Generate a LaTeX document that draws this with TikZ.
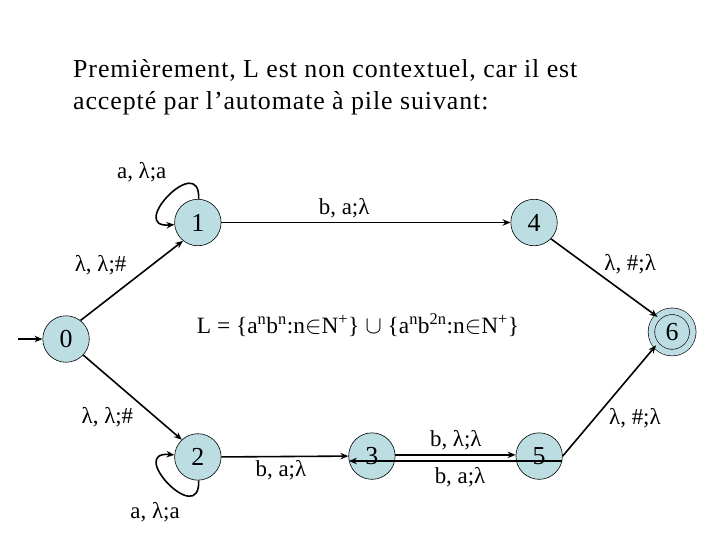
\documentclass[tikz,border=0pt]{standalone}
\usepackage{fontspec}
\setmainfont{Liberation Serif}
\usetikzlibrary{arrows.meta}
\definecolor{stateblue}{RGB}{188,222,226}

\begin{document}
\begin{tikzpicture}[
        yscale=1.0, xscale=1.0,
        state/.style={circle, draw, line width=0.6pt, fill=stateblue, minimum size=1.64cm, inner sep=0pt, font=\fontsize{26}{30}\selectfont},
        final/.style={state, minimum size=1.46cm, double=stateblue, double distance=0.21cm},
        trans/.style={line width=1.6pt, -{Stealth[length=8pt, width=6.5pt]}},
        lbl/.style={font=\fontsize{23}{27}\selectfont, anchor=base, inner sep=0pt},
        title/.style={font=\fontsize{26}{31}\selectfont\addfontfeatures{LetterSpace=3.5}, anchor=base west, inner sep=0pt}
    ]
    \useasboundingbox (0,0) rectangle (25.4,19.05);

    % Title
    \node[title] (t1) at (2.575, 16.30) {Premièrement, L est non contextuel, car il est};
    \node[title] (t2) at (2.575, 15.17) {accepté par l’automate à pile suivant:};

    % States
    \node[state] (s0) at (2.33, 7.09) {0};
    \node[state] (s1) at (6.98, 11.20) {1};
    \node[state] (s4) at (18.84, 11.20) {4};
    \node[final] (s6) at (23.71, 7.34) {6};
    \node[state] (s2) at (6.98, 2.93) {2};
    \node[state] (s3) at (13.12, 2.96) {3};
    \node[state] (s5) at (19.02, 2.96) {5};
    \coordinate (start) at (0.64, 7.09);

    % Language
    \node[font=\fontsize{23.5}{28}\selectfont, anchor=base, inner sep=0pt] (lang) at (12.63, 7.30)
        {L = \{a\textsuperscript{n}b\textsuperscript{n}:n$\in$N\textsuperscript{+}\} $\cup$ \{a\textsuperscript{n}b\textsuperscript{2n}:n$\in$N\textsuperscript{+}\}};

    % Transitions
    \draw[trans] (start) -- (s0.west);
    \draw[trans] (s0.52) -- (s1.231);
    \draw[trans] (s1) to[out=88, in=185, looseness=3.5] (s1);
    \draw[trans] (s1.east) -- (s4.west);
    \draw[trans] (s4.-44) -- (s6.134);
    \draw[trans] (s0.-43) -- (s2.133);
    \draw[trans] (s2) to[out=-88, in=175, looseness=3.5] (s2);
    \draw[trans] (s2.east) -- (s3.west);
    \draw[trans] (s3.3) -- (s5.177);
    \draw[trans] (s5.-12) -- (s3.-168);
    \draw[trans] (s5.east) -- (s6.220);

    % Labels
    \node[lbl] (l11) at (5.00, 12.77) {a, λ;a};
    \node[lbl] (l14) at (12.14, 11.50) {b, a;λ};
    \node[lbl] (l01) at (3.55, 9.47) {λ, λ;\#};
    \node[lbl] (l46) at (22.23, 9.50) {λ, \#;λ};
    \node[lbl] (l02) at (3.79, 4.12) {λ, λ;\#};
    \node[lbl] (l22) at (5.47, 0.77) {a, λ;a};
    \node[lbl] (l23) at (9.91, 2.23) {b, a;λ};
    \node[lbl] (l35) at (16.08, 3.29) {b, λ;λ};
    \node[lbl] (l53) at (16.23, 2.00) {b, a;λ};
    \node[lbl] (l56) at (22.40, 4.06) {λ, \#;λ};

\end{tikzpicture}
\end{document}
